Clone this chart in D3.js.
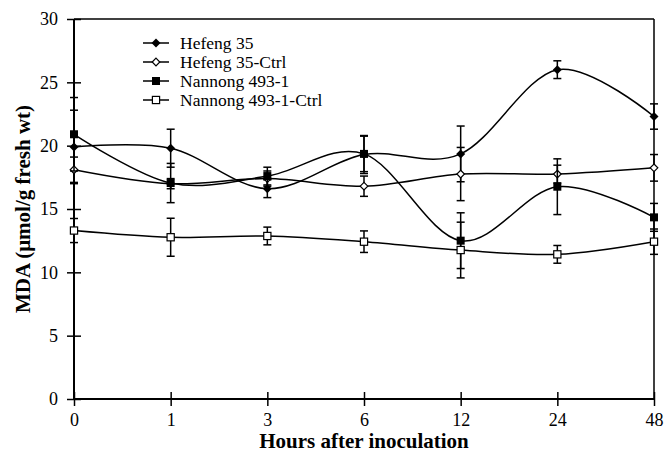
<!DOCTYPE html>
<html><head><meta charset="utf-8">
<script src="https://cdn.jsdelivr.net/npm/d3@7"></script>
<style>body{margin:0;background:#fff}svg{display:block}
svg text{font-family:"Liberation Serif","DejaVu Serif",serif !important;fill:#000}</style>
</head><body>
<svg id="c" width="665" height="458"></svg>
<script>
const categories = ["0","1","3","6","12","24","48"];
const yTicks = [0,5,10,15,20,25,30];
const seriesNames = ["Hefeng 35","Hefeng 35-Ctrl","Nannong 493-1","Nannong 493-1-Ctrl"];
const hefeng35      = [19.9, 19.8, 16.6, 19.3, 19.35, 26.0, 22.3];
const hefeng35Err   = [2.9, 1.5, 0.7, 1.5, 2.2, 0.7, 1.0];
const hefengCtrl    = [18.1, 17.0, 17.4, 16.8, 17.76, 17.76, 18.25];
const hefengCtrlErr = [1.0, 0.4, 0.6, 0.8, 2.1, 0.7, 1.05];
const nannong       = [20.9, 17.05, 17.6, 19.35, 12.5, 16.76, 14.34];
const nannongErr    = [2.9, 1.55, 0.7, 1.4, 2.2, 2.2, 1.1];
const nannongCtrl   = [13.3, 12.77, 12.87, 12.42, 11.76, 11.42, 12.42];
const nannongCtrlErr= [0.95, 1.5, 0.7, 0.85, 2.2, 0.7, 1.0];

const values = [hefeng35, hefengCtrl, nannong, nannongCtrl];
const errors = [hefeng35Err, hefengCtrlErr, nannongErr, nannongCtrlErr];
const markers = ["diamondFilled","diamondOpen","squareFilled","squareOpen"];

const L=74, R=654, T=19, B=399;
const svg = d3.select("#c");
const x = d3.scalePoint().domain(categories).range([L,R]);
const y = d3.scaleLinear().domain([0,30]).range([B,T]);
const font = "Liberation Serif";

svg.append("line").attr("x1",L).attr("x2",R).attr("y1",T).attr("y2",T).attr("stroke","#000").attr("stroke-width",1.5);
svg.append("line").attr("x1",R).attr("x2",R).attr("y1",T).attr("y2",B).attr("stroke","#000").attr("stroke-width",1.5);

const yAxis = svg.append("g").attr("transform",`translate(${L},0)`)
  .call(d3.axisLeft(y).tickValues(yTicks).tickSize(7).tickPadding(9).tickFormat(d3.format("d")));
yAxis.selectAll(".tick line").attr("x2",7).attr("x1",-7);
const xAxis = svg.append("g").attr("transform",`translate(0,${B})`)
  .call(d3.axisBottom(x).tickSize(7).tickPadding(7));
xAxis.selectAll(".tick line").attr("y1",-7).attr("y2",7);
[yAxis,xAxis].forEach(a=>{
  a.attr("font-family",font).attr("font-size",18);
  a.select(".domain").attr("stroke-width",2);
  a.selectAll(".tick line").attr("stroke-width",1.5);
  a.selectAll("text").attr("fill","#000");
});
yAxis.select(".domain").attr("d",`M0,${T}V${B}`);
xAxis.select(".domain").attr("d",`M${L},0H${R}`);

svg.append("text").attr("x",(L+R)/2).attr("y",448).attr("text-anchor","middle")
  .attr("font-family",font).attr("font-weight","bold").attr("font-size",21).text("Hours after inoculation");
svg.append("text").attr("transform",`translate(30,${(T+B)/2}) rotate(-90)`).attr("text-anchor","middle")
  .attr("font-family",font).attr("font-weight","bold").attr("font-size",21).text("MDA (μmol/g fresh wt)");

function drawMarker(g, type, cx, cy){
  if(type==="diamondFilled"){
    g.append("path").attr("d",`M${cx},${cy-4.5}L${cx+4.5},${cy}L${cx},${cy+4.5}L${cx-4.5},${cy}Z`).attr("fill","#000");
  } else if(type==="diamondOpen"){
    g.append("path").attr("d",`M${cx},${cy-3.8}L${cx+3.8},${cy}L${cx},${cy+3.8}L${cx-3.8},${cy}Z`).attr("fill","#fff").attr("stroke","#000").attr("stroke-width",1.2);
  } else if(type==="squareFilled"){
    g.append("rect").attr("x",cx-4).attr("y",cy-4).attr("width",8).attr("height",8).attr("fill","#000");
  } else {
    g.append("rect").attr("x",cx-3.6).attr("y",cy-3.6).attr("width",7.2).attr("height",7.2).attr("fill","#fff").attr("stroke","#000").attr("stroke-width",1.2);
  }
}

const line = d3.line().x((d,i)=>x(categories[i])).y(d=>y(d)).curve(d3.curveCardinal.tension(0));

values.forEach((vals,s)=>{
  const g = svg.append("g");
  vals.forEach((v,i)=>{
    const cx = x(categories[i]), e = errors[s][i];
    const y1 = y(v+e), y2 = y(v-e);
    g.append("line").attr("x1",cx).attr("x2",cx).attr("y1",y1).attr("y2",y2).attr("stroke","#000").attr("stroke-width",1.5);
    [y1,y2].forEach(yy=>g.append("line").attr("x1",cx-4).attr("x2",cx+4).attr("y1",yy).attr("y2",yy).attr("stroke","#000").attr("stroke-width",1.5));
  });
  g.append("path").attr("d",line(vals)).attr("fill","none").attr("stroke","#000").attr("stroke-width",1.5);
  vals.forEach((v,i)=>drawMarker(g, markers[s], x(categories[i]), y(v)));
});

const lg = svg.append("g");
seriesNames.forEach((n,i)=>{
  const ly = 43 + i*19;
  lg.append("line").attr("x1",143).attr("x2",169).attr("y1",ly).attr("y2",ly).attr("stroke","#000").attr("stroke-width",1.5);
  drawMarker(lg, markers[i], 156, ly);
  lg.append("text").attr("x",180).attr("y",ly+5.5).attr("font-family",font).attr("font-size",17.5).text(n);
});
</script>
</body></html>
